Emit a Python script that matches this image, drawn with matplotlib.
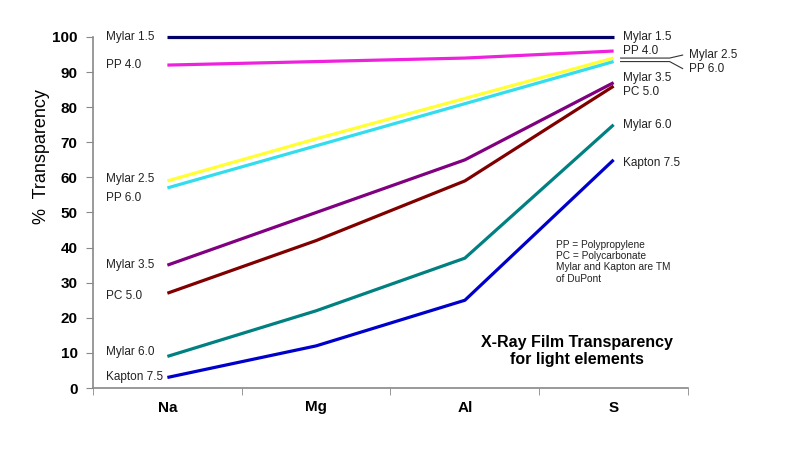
import matplotlib
matplotlib.use("Agg")
import matplotlib.pyplot as plt
import numpy as np

plt.rcParams['font.family'] = ['Liberation Sans', 'DejaVu Sans']

categories = ["Na", "Mg", "Al", "S"]
series_names = ["Mylar 1.5", "PP 4.0", "Mylar 2.5", "PP 6.0",
                "Mylar 3.5", "PC 5.0", "Mylar 6.0", "Kapton 7.5"]
mylar_1_5 = [100, 100, 100, 100]
pp_4_0 = [92, 93, 94, 96]
mylar_2_5 = [59, 71, 82.5, 94]
pp_6_0 = [57, 69, 81, 93]
mylar_3_5 = [35, 50, 65, 87]
pc_5_0 = [27, 42, 59, 86]
mylar_6_0 = [9, 22, 37, 75]
kapton_7_5 = [3, 12, 25, 65]
series_values = [mylar_1_5, pp_4_0, mylar_2_5, pp_6_0,
                 mylar_3_5, pc_5_0, mylar_6_0, kapton_7_5]
colors = ["#000066", "#ee22dd", "#ffff33", "#33ddee",
          "#800080", "#800000", "#008080", "#0000cc"]
yticks = [0, 10, 20, 30, 40, 50, 60, 70, 80, 90, 100]

W, H = 791, 465
fig = plt.figure(figsize=(W / 100, H / 100), dpi=100)
ax = fig.add_axes([93 / W, 1 - 388 / H, (688 - 93) / W, (388 - 37) / H])

x = np.arange(len(categories))
for vals, c in zip(series_values, colors):
    ax.plot(x, vals, color=c, lw=2.3, solid_capstyle='butt', clip_on=False)

ax.set_xlim(-0.5, len(categories) - 0.5)
ax.set_ylim(0, 100)
ax.set_yticks(yticks)
ax.set_yticklabels([str(t) for t in yticks], fontsize=11, fontweight='bold')
ax.set_xticks(x)
ax.set_xticklabels(categories, fontsize=11, fontweight='bold')
ax.set_xticks(np.arange(-0.5, len(categories)), minor=True)
ax.tick_params(axis='x', which='major', length=0, pad=9)
ax.tick_params(axis='x', which='minor', length=5, color='#888888', direction='out')
ax.tick_params(axis='y', length=5, color='#888888', direction='out', pad=6)
for s in ['top', 'right']:
    ax.spines[s].set_visible(False)
for s in ['left', 'bottom']:
    ax.spines[s].set_color('#888888')
    ax.spines[s].set_linewidth(1.2)

ax.set_ylabel("%  Transparency", fontsize=13)
ax.yaxis.set_label_coords(-0.073, 0.66)

# left labels (left-aligned, offsets in points relative to first point)
left_off = {"Mylar 1.5": 0, "PP 4.0": 0, "Mylar 2.5": 1.5, "PP 6.0": -7,
            "Mylar 3.5": 0, "PC 5.0": -2, "Mylar 6.0": 3, "Kapton 7.5": 0}
for name, vals in zip(series_names, series_values):
    ax.annotate(name, (x[0], vals[0]), xytext=(-44.5, left_off[name]),
                textcoords='offset points', ha='left', va='center',
                fontsize=8.5, color='#222222')

# right labels
right_off = {"Mylar 1.5": 0, "PP 4.0": 0, "Mylar 3.5": 3,
             "PC 5.0": -4.5, "Mylar 6.0": 0, "Kapton 7.5": -2}
for name, vals in zip(series_names, series_values):
    if name in right_off:
        ax.annotate(name, (x[-1], vals[-1]), xytext=(6.5, right_off[name]),
                    textcoords='offset points', ha='left', va='center',
                    fontsize=8.5, color='#222222')

# leader-line labels for Mylar 2.5 and PP 6.0
for name, vals, dy in [("Mylar 2.5", mylar_2_5, 2), ("PP 6.0", pp_6_0, -5)]:
    ax.annotate(name, (x[-1], vals[-1]), xytext=(54, dy),
                textcoords='offset points', ha='left', va='center',
                fontsize=8.5, color='#222222')
trans = ax.transData
inv = trans.inverted()
for vals, dy_end in [(mylar_2_5, 3), (pp_6_0, -7)]:
    px, py = trans.transform((x[-1], vals[-1]))
    pts_x = [px + 7, px + 56, px + 69]
    pts_y = [py, py, py + dy_end]
    dpts = inv.transform(np.column_stack([pts_x, pts_y]))
    ax.plot(dpts[:, 0], dpts[:, 1], color='#333333', lw=0.8, clip_on=False)

fig.text(556 / W, 1 - 240 / H,
         "PP = Polypropylene\nPC = Polycarbonate\nMylar and Kapton are TM\nof DuPont",
         fontsize=7.3, va='top', ha='left', linespacing=1.15, color='#222222')
fig.text(577 / W, 1 - 351 / H, "X-Ray Film Transparency\nfor light elements",
         fontsize=11.5, fontweight='bold', ha='center', va='center', linespacing=1.2)

fig.savefig("out.png", dpi=100)
